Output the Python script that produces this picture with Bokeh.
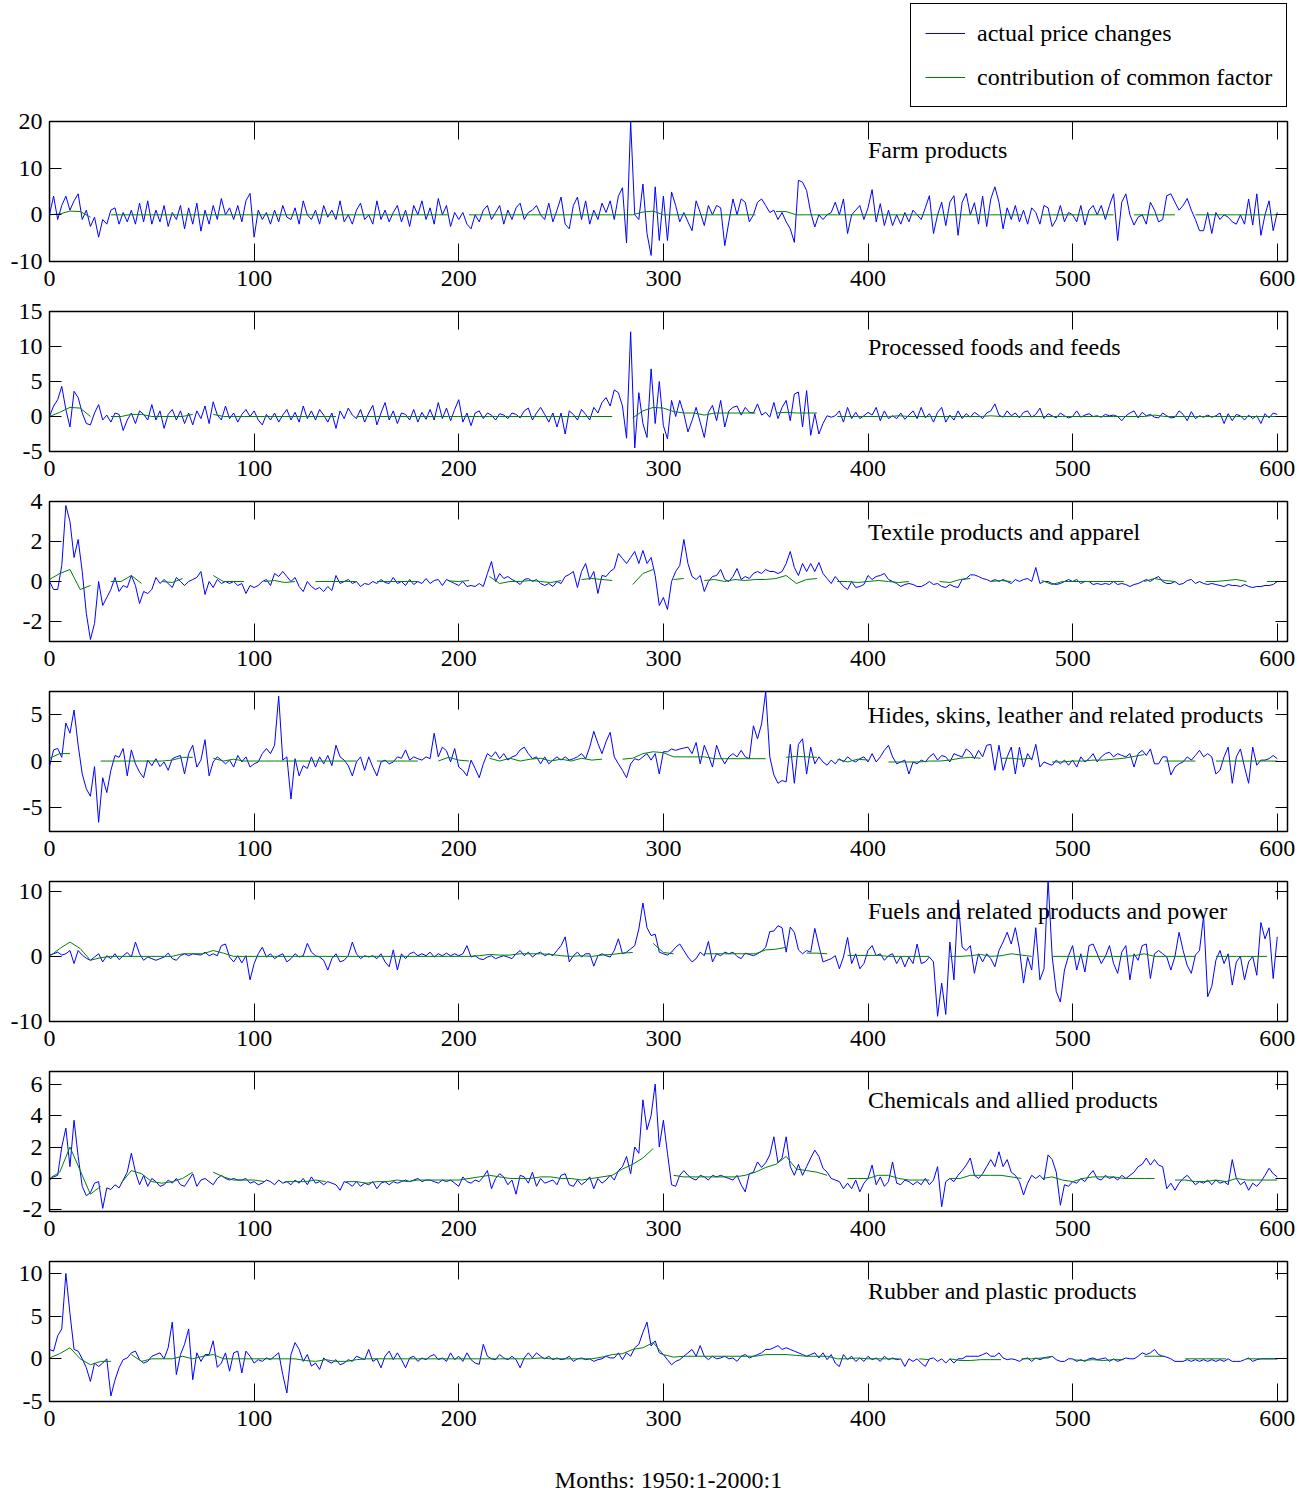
import numpy as np
from bokeh.plotting import figure
from bokeh.layouts import column
from bokeh.models import FixedTicker, LinearAxis, Label, Legend, LegendItem, Range1d
from bokeh.embed import file_html
from bokeh.resources import INLINE

nan = float("nan")

# ---------------- data ----------------
panel_titles = ["Farm products", "Processed foods and feeds", "Textile products and apparel",
                "Hides, skins, leather and related products", "Fuels and related products and power",
                "Chemicals and allied products", "Rubber and plastic products"]
x_axis_title = "Months: 1950:1-2000:1"
legend_labels = ["actual price changes", "contribution of common factor"]
x_tick_values = [0, 100, 200, 300, 400, 500, 600]
y_limits = [(-10, 20), (-5, 15), (-3, 4), (-7.6, 7.5), (-10, 11.5), (-2.1, 6.8), (-5, 11.4)]
y_tick_values = [[-10, 0, 10, 20], [-5, 0, 5, 10, 15], [-2, 0, 2, 4], [-5, 0, 5],
                 [-10, 0, 10], [-2, 0, 2, 4, 6], [-5, 0, 5, 10]]
title_y = [14, 10, 2.5, 5, 7, 5, 8]
title_x = 400
actual_step = 2   # months between stored points of the actual series
common_step = 5   # months between stored points of the common-factor series

farm_actual = [
    0,4,-1,2,4,1,3,4.5,-1,1,-2.5,-0.5,-4.8,-1,-2,1,1.5,-2,0.5,-1.5,1,-2,2.5,-1.5,3,
    -2,1,-1.5,2,-2.5,0.5,-1,2,-3,1.5,-2,2.5,-3.5,1,-2,2,-1,3.5,0,1.5,-1,2,-1.5,3,4.6,
    -4.8,1,-1,0.5,-2,1,-1.5,2,-0.5,-1,1.5,-2,3,0,-1,1,-2,2,-0.5,1,-1,3,-1.5,0,-2,
    1,2.5,-1,0,-2,3,-1,1,-1.5,0.5,2,-1.5,1,-2.5,2,0,3,-1,1.5,-2,3.5,0,2,-2.5,0.5,
    -1,0.5,-2,-3,0,-1.5,1,2,-1,0.5,2,-2,1,-1,1.5,2.5,-1,0.5,1,2,0,-1,2.5,-1.5,1,
    3.8,-2,-3,2,3.8,-1,3,-2,1,-1,2.5,0.5,3,-1,4,5.8,-6,20,0,-1,6.6,-4,-8.7,6,-5.5,
    4,-5.5,4.9,2,-1.5,0.5,-1.5,-3.4,3,0.5,-2.3,2,0,2,1.5,-6.6,-1.5,3.4,0,3.4,2.7,-1.5,0,2.7,3.4,
    2,0.5,1,-1,0.5,-1.5,-3,-5.9,7.4,7,5.2,0.5,-2.6,0,-1,0,0.5,2.7,0,3.4,-4,0,1,2,-1,
    1.5,5.4,-1.5,2.4,-2.3,1,-2.3,0,-2,0.5,-1.5,1,0,-1,1.5,4.1,-4,0,2.7,-2.3,2.7,4.1,-4.4,2.7,4.6,
    0,2.6,-2,4,-2.5,3.4,6,2.7,-3,1.5,-1,2,-1.5,1,-2,1.5,0.5,-2,2,1.5,-2.5,-1,2,-1.5,0.5,
    0,-1.5,2,-2.2,1,2,0,2,-1,2,4.5,-5.5,2.7,4.5,0,-2.2,-0.5,0,-2,2.7,1,-1.5,-1,4.1,4.5,
    2.7,1,2,3.5,1,-1,-3.4,-3.4,0.5,-4,0.5,-1,0,-0.5,-1.5,-2,0,-2,3.4,-2.2,4.5,-4.4,0,3,-3.4,
    0.5]
farm_common = [
    0,0.2,0.8,0.7,-0.5,nan,0,0,0,0,0,0,0,0,0,0,0,0,0,0,
    0,0,0,0,0,0,0,0,0,0,0,0,0,0,0,0,0,0,0,0,
    nan,0,0,0,0,0,0,0,0,0,0,0,0,0,0,0,0,0,0.6,0.8,
    0,0,0,0,0,0,0,0,0,0,nan,0.7,0.7,0,0,0,0,0,0,0,
    0,0,0,0,0,0,0,0,0,0,0,0,0,0,0,0,nan,0,0,0,
    0,0,0,0,0,nan,0,0,0,0,0,nan,0,0,0,0,0,0,0,0,
    0]

foods_actual = [
    0,1.5,2.4,4.3,1,-1.5,3.6,2.7,0.5,-1,-1.2,0.5,1.7,-0.5,0.2,-0.8,0.5,0.3,-2,-0.5,0.5,-1,0.8,0.3,-0.5,
    1.7,-0.5,0.8,-1.7,0.3,1,-0.5,0.8,-1,0.5,-1.2,0.8,-0.3,1.5,-1,2.1,0.2,-0.5,1.5,-0.3,0.5,-0.8,0.3,1,0,
    0.8,-0.5,-1.2,0.3,-0.5,0.5,-0.8,0.2,1,-0.5,0.6,-0.8,1.5,-0.3,0.8,-0.5,1,0.2,-0.8,0.5,-1.7,0.8,-0.3,1.2,0.2,
    -0.3,1,-0.8,0.5,1.6,-1.2,0.5,2,-0.5,0.8,-1,0.5,0.3,-0.5,1,-0.8,0.6,-0.4,1,-0.5,2,-0.3,1.2,-0.6,1,
    2.4,-0.8,0.5,-1.3,0.5,0.8,-0.3,0.5,0.2,-0.5,0.4,0.2,-0.3,0.5,0.3,-0.2,0.8,1.2,-0.5,0.5,1.3,0.3,-0.8,0.5,-1.5,
    0.5,-2.5,0.8,0.3,-0.5,1,0.3,-0.5,1.3,0.5,2,2.7,1.5,3.8,3.4,1.5,-3.1,12.1,-4.5,3.4,-1,-3,6.8,-1,5,
    -1.3,-3.2,2.3,0,2.3,0.4,-2.2,-0.6,1.3,-0.8,-3,0.6,1.6,-0.6,2.3,-1.5,0.8,1.3,1.5,0.2,1.3,0.6,0.5,1.8,0.2,
    0.6,-0.1,2,-0.3,1.3,2.3,-0.6,3.2,3.5,-1.5,3.7,-2.7,0.4,-2.5,-1,0.1,-0.1,0.1,0.8,-0.8,1.3,-0.3,0.6,-0.3,0.1,
    0.6,0.2,1.3,-0.6,0.8,-0.3,0.1,-0.3,0.5,-0.4,0.2,0.8,-0.3,1.3,-0.2,0.4,-0.8,0.6,1.3,-0.8,0.2,-0.5,0.8,-0.3,0.4,
    -0.1,0.6,0.2,-0.3,0.5,0.8,1.8,0.2,-0.1,0.8,0.1,0.5,-0.2,0.6,0.8,-0.1,0.3,1.2,-0.3,0.4,0.1,-0.2,0.5,0.1,-0.2,
    0,0.8,-0.1,0.2,0.4,0,0.1,-0.1,0.3,0.1,0.2,0,-0.6,0.1,0.5,0.8,-0.2,0.6,0.1,0.3,-0.1,-0.2,0.5,0.1,-0.2,
    -0.1,0.8,0.3,-0.6,0.7,-0.3,0.1,-0.1,0.2,-0.1,0.1,0.5,-1,0.4,-0.6,0.3,0.1,-0.5,0.2,-0.3,0.1,-1,0.4,-0.2,0.5,
    0.3]
foods_common = [
    0,0.6,1.3,1.2,0,nan,0,0,0.3,0.3,0,0,0,0,0.3,nan,0.3,0,0,0,
    0,0,0,0,0,0,0,0,0,nan,0,0,0,0,0,0,0,0,0,0,
    0,0,0,0,0,0,0,0,0,0,0,0,0,0,0,0,nan,-0.2,0.8,1.3,
    1.2,0.7,0.5,0.5,0.2,0.5,0.5,0.5,0.5,0.5,nan,0.5,0.6,0.5,0.5,0.5,nan,0,0,0,
    0,0,0,0.1,0,0,0,0,0,0,0,0,0.1,0,0,0,0,0,0,0,
    0,0,0,0,0,0,0,0,0.2,0,0,0,0,0,0,0,0,0,0,0,
    0]

textile_actual = [
    0,-0.4,-0.4,0.8,3.8,3.0,1.2,2.1,0.5,-1.6,-2.9,-2.1,0,-1.2,-0.8,-0.4,0.2,-0.5,-0.2,-0.3,0.3,-0.2,-1.1,-0.5,-0.6,
    -0.4,0.2,-0.1,0.1,-0.1,-0.3,0.2,0,-0.2,0,0.1,0.2,0.5,-0.65,0,-0.3,0.1,-0.1,0,-0.1,0,-0.2,-0.1,-0.6,-0.2,
    -0.3,-0.2,0,0.1,-0.2,0.4,0.25,0.5,0.25,0,0.2,-0.25,-0.5,0,-0.25,-0.4,-0.3,-0.5,-0.25,-0.45,0.3,-0.1,0,0.1,-0.1,
    0,-0.25,-0.1,-0.15,0,-0.1,0.1,-0.05,-0.1,0.2,-0.1,0,-0.2,0.1,-0.15,0,-0.1,0.15,-0.1,0.05,0.1,-0.2,0.1,0,-0.1,
    -0.2,0,-0.25,-0.2,-0.25,-0.1,-0.25,0.4,1,0,0.4,0.15,0.25,0.1,0,-0.15,0.1,0.15,0,0.1,-0.1,-0.2,-0.1,-0.25,0,
    -0.1,0.25,0.35,0.5,-0.3,0.5,0.9,0.1,0.5,-0.6,0.3,0.25,0.5,0.65,1.4,1.15,0.9,1.2,1.5,0.9,1.55,0.9,1.2,0.3,-1.2,
    -0.8,-1.4,0,0.5,0.8,2.1,0.9,0.25,0.1,0.3,-0.5,0,0.25,0.3,0.6,0.1,0,0.25,0.65,0.1,0.25,0.15,0.4,0.5,0.4,
    0.6,0.5,0.5,0.4,0.5,0.9,1.5,0.7,0.3,0.9,0.5,0.9,0.5,0.95,0.4,0.15,-0.1,0.25,0,-0.25,-0.4,0,-0.3,-0.25,-0.15,
    0.3,0.1,0.25,0.3,0.4,0.1,0,-0.1,-0.25,-0.15,-0.1,-0.15,-0.25,-0.25,-0.15,0,-0.15,-0.1,-0.25,-0.3,-0.15,-0.25,-0.3,0.1,0.15,
    0.33,0.33,0.25,0.15,0.1,0,0.1,0,0.1,0,-0.1,0.1,0,0.1,0.15,0,0.7,-0.1,0,0,-0.1,-0.15,-0.1,0,0.1,
    0,0.1,-0.1,0,0,-0.15,-0.1,-0.15,-0.1,-0.15,0,-0.15,-0.1,-0.15,-0.25,-0.15,-0.1,0,0.1,0,0.15,0.25,0,-0.1,-0.1,
    0,-0.15,-0.1,0.05,0.1,-0.1,0,-0.1,-0.15,-0.1,-0.15,-0.2,-0.25,-0.15,-0.2,-0.2,-0.25,-0.15,-0.25,-0.3,-0.25,-0.25,-0.2,-0.2,-0.15,
    0]
textile_common = [
    0.1,0.4,0.6,-0.4,-0.2,nan,0,0,0.3,-0.1,nan,0,-0.05,0.15,nan,nan,0.3,0,0,0,
    nan,0,0.05,-0.05,0,nan,0,0,0,0,0,nan,0,0,0,0,0,nan,nan,0.03,
    0,0.05,nan,0.25,-0.1,0,0,0.05,0,-0.05,0.05,nan,0.1,0.15,0.1,0.05,nan,-0.15,0.4,0.6,
    nan,0.1,0.15,nan,0.05,0.1,0,0.1,0.05,0.1,0.1,0.15,0.3,-0.1,0.1,0.15,nan,0,0,-0.05,
    0,0.05,0,-0.05,0,nan,nan,0,-0.05,0.1,0.15,nan,0,0.05,0,nan,nan,0.05,-0.15,0,
    0,0,0,0,0,0,nan,0,0.15,0.05,0,nan,nan,0,0,0.05,0.1,0,nan,0,
    0]

hides_actual = [
    -0.6,1.2,1.35,0.4,4.1,3.0,5.5,1.7,-1.4,-3.0,-3.8,-0.6,-6.6,-1.8,-3.4,-1,0.6,0.4,1.35,-1.6,1.2,-0.3,-1.2,-1.8,0.1,
    -0.5,0.25,-0.6,-0.1,-1,0.25,0.45,0.6,-1.4,0.8,1.7,-0.65,0.1,2.3,-1.6,-0.1,0.45,0.1,-0.3,0.1,-0.65,0.6,-0.1,0.45,-0.65,
    -0.3,-0.1,0.8,1.35,0.8,1.7,7,0.1,0.45,-4.1,0.25,-1.6,-0.5,-0.8,0.45,-0.65,0.45,-0.3,0.6,-0.5,1.7,0.45,0.1,-0.5,-1.6,
    -0.1,0.45,-1,0.45,-0.65,-1.6,-0.1,0.1,-0.3,-0.1,0.45,0.3,1.2,0.1,0.45,0.25,0.1,0.45,0.25,3,0.45,1.5,1.1,-0.1,1.35,
    -0.65,-1,-1.6,0.1,-0.8,-1.8,-0.3,0.8,0.45,1,0.25,0.8,0.1,0.45,0.6,1.2,1.5,0.8,0.25,0.45,-0.3,0.45,-0.3,0.1,0.45,
    0.1,0.45,0.1,0.25,0.45,0.8,0.25,1.5,3.2,1.9,0.8,2.1,3.1,0.45,-0.3,-1,-1.8,-0.3,0.25,0.1,0.45,0.8,0.1,0.8,-1.4,
    1,1,1.3,1.15,1.3,1.4,1.5,0.8,2,-0.3,1.7,0.6,-0.65,1.7,0.45,-0.3,0.45,0.8,0.45,1.15,0.45,0.25,3.8,2.4,4,
    7.5,0.45,-1.5,-2.4,-2.1,-2.25,1.8,-2.4,1.8,2.4,-1.4,1.5,-0.3,0.45,-0.1,-0.45,0.1,-0.3,0.25,-0.1,0.45,0.1,-0.1,0.25,0.45,
    -0.1,0.8,-0.1,0.45,1.15,1.7,0.45,-0.3,-0.1,0.1,-1.4,-0.1,-0.3,0.1,-0.1,0.45,0.8,0.1,0.6,0.45,-0.1,0.8,0.6,0.45,1.3,
    0.95,0.25,1.15,0.45,1.7,1.8,-1,1.7,-1,0.45,1.5,-1.4,1.5,-0.65,0.8,0.1,1.8,-0.65,-0.1,-0.3,-0.45,0.1,-0.3,0.1,-0.45,
    0.1,-0.65,0.45,-0.1,0.25,0.8,-0.1,0.45,0.8,0.95,0.45,0.8,0.6,0.45,0.8,-0.65,0.8,1.15,0.6,1.3,-0.3,-0.3,0.45,0.45,-1.5,
    -0.65,-0.3,-0.1,0.45,0.1,0.6,1.15,0.45,0.8,0.45,-1.4,-1,0.45,1.5,-2.4,0.45,1.3,-0.65,-2.4,1.5,-0.45,0.1,0.1,0.25,0.6,
    0.25]
hides_common = [
    0.3,0.8,0.8,nan,nan,0,0,0,0,0,0,0,0.1,0.4,0.4,nan,0.3,0,0.2,0,
    0,0,0,0,0,0,0,0,0,0,0,nan,0,0,0,0,0,nan,0,0.4,
    0.1,0,nan,0.3,0,0.3,0,0.2,0.3,0,0.2,0,0.3,0.1,0.2,nan,0.2,0.3,0.8,1,
    0.9,0.45,0.45,0.45,0.45,0.25,0.25,0.25,0.25,0.25,0.25,nan,0.4,0.5,0.45,0.4,nan,0.2,-0.1,0.2,
    0.1,nan,-0.1,-0.1,-0.1,-0.1,0,0,0.1,0.3,0.4,0.3,nan,0.3,0.3,0.2,0.3,nan,-0.1,-0.1,
    0,0,0.1,0.1,0.2,0.3,0.5,0.7,nan,0,0,0,0,nan,0,0,0,0,0,0,
    0]

fuels_actual = [
    0.2,0.4,0.65,0.2,0.4,0.9,-1.1,0.9,0.2,-0.3,-0.6,-0.1,0.4,-0.85,0.1,-0.35,0.4,-0.5,0.1,0.6,-0.1,2.2,0.4,-0.6,-0.1,
    -0.35,-0.6,-0.35,-0.1,0.5,-0.35,-0.6,0.1,0.4,0.1,0.4,0.3,0.2,0.65,0.1,0.4,0.1,1.65,1.9,-0.1,-0.85,0.1,-1,0.1,-3.6,
    -1.1,0.4,1.4,-0.1,0.4,-0.35,0.1,0.4,-0.85,-0.35,0.4,-0.1,0.1,2,0.65,0.1,-0.1,-0.6,-2.1,-0.35,0.4,-0.85,-0.6,0.1,2.2,
    0.4,-0.35,0.1,-0.1,0.1,-0.35,0.4,-0.85,-1.6,1,-2.1,0.4,-0.35,0.4,0.65,0.1,0.4,0.1,0.65,-0.1,0.4,0.1,0.5,0.1,0.4,
    0.1,0.4,1.65,-0.1,0.1,-0.35,-0.5,-0.1,0.1,-0.35,-0.1,0.1,-0.1,-0.35,0.4,0.9,0.1,0.65,-0.1,0.4,0.65,0.1,0.4,0.1,0.9,
    1.65,3,-0.85,0.1,0.65,-0.1,0.4,0.4,-1.5,0.1,0.4,0.1,-0.1,0.9,2.7,0.4,0.65,1.15,1.65,4.2,8.2,4.4,3.2,3.4,0.65,
    0.4,0.2,0.65,1.4,1.9,0.9,-0.1,-0.85,-0.35,0.65,0.1,2.3,-0.85,0.4,0.1,0.65,0.4,0.65,0,-0.35,0.5,0.3,0.1,0.4,0.8,
    1.4,3.8,3.9,4.7,4.4,0.65,4.5,3.7,1,0.4,0.9,0.65,4.3,1.6,-0.85,-0.6,-0.35,0.1,-1.9,-0.1,2.9,-1.1,0.4,-1.9,-1.1,
    0.9,1.65,0.1,0.4,-0.6,0.1,0.4,-1.1,0,-1.6,-0.1,-1.1,1.9,-1.1,-0.85,-0.1,-0.85,-9.2,-4.1,-8.9,2.2,-3.6,8.7,1.4,0.9,
    1.65,-2.6,0.4,-0.85,0.4,-0.35,-1.6,0.9,2.2,3.7,1.9,4.4,1.15,-4.1,-0.1,-2.1,4.4,-3.6,-1.9,11.8,0,-5.4,-7,-2.1,0.1,
    1.65,-2.1,0.4,-2.4,1.65,1.9,0.4,-1.1,0,1.65,-1.1,-2.6,0.65,1.65,-3.6,0.4,-0.6,1.65,1.9,-3.4,0.4,0.9,0.4,-0.1,-2.1,
    0,3.7,0.9,-1.4,-2.6,0.2,0.9,6.2,-6.2,-4.6,-0.6,0.9,-1.1,0.4,-4.4,-0.85,0,-3.6,-0.85,0,-2.9,5.2,2.7,4.4,-3.4,
    3]
fuels_common = [
    0,1.2,2.2,1.2,-0.6,-0.2,0,0,0,0,0,0,0,0.4,0.4,0.4,0.9,0.5,0,0,
    0,0,0,0,0,0,0,0,0,0,0,0,0,0,0,0,0,0,0,0,
    0,0,0.1,0.3,0.2,0.2,0.4,0.4,0.4,0.3,0.1,0,0.1,0,0.2,0.3,0.5,0.6,nan,2.0,
    0.6,0.4,nan,nan,0.4,0.4,0.4,0.4,0.4,0.4,1.0,1.1,1.4,nan,0.5,0.5,0.4,nan,0.15,0.15,
    0.15,0.15,0,0,0,0,0,nan,0,0,0.1,0.3,0,0.1,0.4,0.2,0,nan,0,0,
    0,0,0,0,0,0,0.1,0.4,0,0,0,0,0,nan,0,0,0,0,0,0,
    nan]

chem_actual = [
    -0.1,0.1,0.2,2.0,3.2,0.75,3.7,1.4,-0.5,-1.1,-0.9,-0.3,-0.2,-1.9,-0.6,-0.7,-0.4,-0.6,-0.1,0.4,1.6,0.4,-0.4,0.2,-0.5,
    0,-0.2,-0.5,-0.4,-0.1,-0.3,0,-0.4,-0.5,-0.1,0.3,-0.5,-0.1,0,-0.2,-0.4,0,0.2,0,-0.1,0,-0.1,-0.1,0,-0.3,
    -0.2,-0.4,-0.3,-0.1,-0.2,-0.4,-0.1,-0.3,-0.2,-0.4,-0.1,-0.3,0,-0.4,0.1,-0.3,-0.2,-0.4,-0.2,-0.3,-0.4,-0.75,-0.2,-0.3,-0.5,
    -0.2,-0.5,-0.3,-0.4,-0.2,-0.65,-0.3,-0.2,-0.4,-0.2,-0.3,-0.2,-0.1,-0.2,-0.1,0,-0.2,-0.1,-0.1,-0.2,-0.3,-0.1,-0.2,-0.1,-0.3,
    -0.5,0.1,-0.2,-0.3,-0.1,-0.2,0.1,0.5,-0.65,0,0.3,0.1,-0.4,-0.1,-1,0.2,0.1,-0.3,0.4,-0.5,0,-0.3,-0.2,-0.1,-0.4,
    0.2,0.3,-0.4,-0.5,-0.1,-0.4,-0.2,0.1,-0.65,0,-0.3,-0.1,0.2,-0.1,0.5,0.75,1.4,0.3,2,1.6,5,3.1,4,6,2,
    3.7,1.6,-0.4,-0.5,0.2,0.5,0.2,0,-0.1,0.2,0.1,-0.1,0.2,0.1,0.2,0.1,0,-0.1,0.2,-0.4,-0.85,0.3,0.4,1.05,0.7,
    1,1.5,2.65,1,1.3,2.65,0.75,0.2,0.9,0.2,0.75,1.3,1.8,1.4,0.65,0.4,0,-0.1,-0.2,-0.65,-0.3,-0.65,-0.1,-0.85,-0.3,
    0,0.85,-0.4,0.1,-0.5,-0.2,1.05,-0.3,-0.4,-0.1,-0.2,-0.4,-0.2,-0.4,0,-0.4,-0.1,0.75,-1.8,-0.2,0,-0.2,0.2,0.5,0.85,
    1.3,0.2,0,0.3,0.75,1.2,0.75,1.7,0.75,1.2,0.4,0.2,-0.2,-1.05,-0.3,0.2,0,0.2,-0.1,1.5,1.2,0.4,-1.7,-0.4,-0.5,
    -0.2,-0.3,0,-0.2,0.2,0.5,0,-0.1,0.2,0,0.1,-0.1,0.2,0,0.2,0.4,0.75,0.9,1.3,0.85,1.2,0.85,0.75,-0.65,-0.3,
    -0.75,-0.3,0,0.2,-0.1,-0.4,-0.2,-0.3,-0.1,-0.4,-0.1,-0.3,-0.2,-0.4,1.2,0,-0.4,-0.2,-0.75,-0.3,-0.5,-0.2,0.2,0.65,0.3,
    0.1]
chem_common = [
    0,0.4,2,0.5,-1,-0.5,nan,-0.3,0.5,0.3,-0.2,-0.3,-0.2,0,0.4,nan,0.4,0.1,-0.1,-0.1,
    -0.1,-0.2,nan,-0.2,-0.2,-0.2,-0.1,-0.2,nan,-0.2,-0.2,-0.3,-0.2,-0.2,-0.1,-0.2,-0.1,-0.1,-0.1,-0.1,
    -0.1,0,0.1,0.2,0.1,0,0,0,0.1,0.1,0,0,-0.1,0,0.1,0.2,0.6,0.9,1.3,1.9,
    nan,0.2,0.1,0.1,0.1,0.1,0.1,0.1,0.2,0.4,0.7,0.9,1.4,0.6,0.5,0.4,0.2,nan,0,0,
    0,0.2,0.2,0,-0.1,-0.1,-0.1,nan,0,0,0.2,0.2,0.2,0.2,0.1,0,nan,0,0.1,-0.1,
    -0.2,0,0.1,0.1,0.1,0,0,0,0,nan,-0.1,-0.1,-0.2,-0.2,-0.1,-0.2,0,-0.1,-0.1,-0.1,
    -0.1]

rubber_actual = [
    1.1,0.9,2.7,3.5,10,5.3,1.1,0.9,0,-1.05,-2.65,-0.5,-0.9,-0.5,0,-4.35,-2.5,-1.05,-0.1,0.1,0.7,0.9,-0.1,-0.5,-0.3,
    0.3,0.5,0.7,0,1.3,4.3,-1.85,0.5,1.7,3.5,-2.45,0.7,-0.3,0.5,0.5,2.1,-1,-0.5,0.7,-1.45,0.7,0.9,-1.65,0.9,0.3,
    -0.5,-0.1,-0.3,0.1,-0.1,0.3,0.7,-1.85,-4,0.5,1.9,1.1,-0.3,0.5,-0.85,-0.5,-1.25,0.1,-0.3,-0.5,-0.1,-0.7,-0.5,-0.1,-0.3,
    0.3,0.1,-0.1,1.1,-0.3,0,-1.05,0.3,0.9,-0.1,0.7,-0.1,-1.05,0.1,0.3,-0.3,0.1,-0.1,0.3,0.5,-0.1,0.1,-0.3,0.7,-0.1,
    0.3,-0.3,0.7,-0.1,-0.5,-0.65,1.7,0.3,0,-0.1,0.5,0.1,-0.1,0.3,-0.1,-1.05,0.1,0.7,0.1,0.7,0.3,0,0.3,-0.1,0.1,
    -0.1,0,0.3,-0.3,0,0.1,-0.1,0,-0.3,-0.1,0,0.3,0.1,0.1,0.7,-0.1,0.7,0.3,1.3,1.7,3.1,4.3,1.5,2.1,0.7,
    0.5,-0.1,-0.7,-0.3,-0.1,0.3,0.7,1.1,0.3,1.55,0.3,-0.1,0.3,0,0.1,0.3,0,0.1,-0.3,0.3,0.5,0.1,0.3,0.5,0.7,
    1.1,1.1,1.3,1.55,1.1,1.3,1.1,0.9,0.7,0.5,0.3,0.5,0.7,0.1,0.7,-0.1,0.5,-0.5,-0.9,0.5,-0.1,0.3,-0.3,0.1,-0.3,
    0.3,-0.1,0.1,-0.3,0.3,-0.1,0.1,-0.1,0,-0.9,0,-0.3,0,-0.5,-0.9,0,0.1,-0.3,0,-0.5,0,-0.5,0,0,0.3,
    0.3,0.3,0.3,0.5,0.7,0.3,0.3,0.7,0.1,-0.1,0,-0.1,-0.3,0,0.1,-0.3,0.1,-0.1,0.1,0.1,0.3,-0.1,-0.3,-0.3,0,
    0,-0.3,-0.1,-0.3,0,0.1,-0.1,0,0.1,-0.3,0,-0.3,-0.1,0.1,0,0,0.3,0.7,0.5,0.7,1.1,0.5,0.3,0.2,0,
    -0.3,-0.3,-0.3,-0.1,-0.3,-0.1,-0.3,-0.1,-0.3,-0.1,-0.3,-0.1,-0.3,0,-0.3,-0.3,-0.3,-0.1,0.1,-0.3,-0.1,0,0,0,0,
    0]
rubber_common = [
    0.1,0.6,1.3,0,-0.7,-0.3,-0.3,nan,0.5,-0.3,0,0,0,0.3,0,0.3,0.5,0,0,0,
    0,0,0,0,0,-0.2,-0.3,-0.1,-0.3,-0.3,-0.1,0,0,0,0,0,0,0,0,0,
    0,0,0,0,0,0,0,0,0.1,0,0,0,0,0,0.2,0.5,0.6,1.1,1.3,1.9,
    0.5,0.2,0.3,0.3,0.3,0.3,0.3,0.3,0.3,0.3,0.5,0.5,0.5,0.4,0.3,0.3,0.3,0,0,0.1,
    0,0,0,0,nan,0,-0.1,nan,0,-0.2,-0.2,-0.1,-0.1,-0.1,nan,0,0,0.1,0.3,nan,
    -0.1,-0.2,-0.1,-0.2,-0.1,-0.1,nan,0.3,0.3,0.3,nan,0,0,0,0,0,nan,0,0,0,
    0]

actual_series = [farm_actual, foods_actual, textile_actual, hides_actual,
                 fuels_actual, chem_actual, rubber_actual]
common_series = [farm_common, foods_common, textile_common, hides_common,
                 fuels_common, chem_common, rubber_common]

# ---------------- styling ----------------
FONT = "Liberation Serif"
FS = "24px"
BLUE = "#0000ff"
GREEN = "#008000"

# legend strip above the first panel (its frame is aligned with the panels below)
leg_fig = figure(width=1315, height=107, min_border=0, x_range=Range1d(0, 1), y_range=Range1d(0, 1),
                 x_axis_location=None, y_axis_location=None,
                 output_backend="svg", toolbar_location=None)
leg_fig.outline_line_color = None
leg_fig.background_fill_color = "white"
leg_fig.border_fill_color = "white"
leg_fig.grid.visible = False
# legend swatches only: no points fall inside the strip
leg_blue = leg_fig.line(x=[nan, nan], y=[nan, nan], line_color=BLUE, line_width=1)
leg_green = leg_fig.line(x=[nan, nan], y=[nan, nan], line_color=GREEN, line_width=1.2)
legend = Legend(items=[LegendItem(label=legend_labels[0], renderers=[leg_blue]),
                       LegendItem(label=legend_labels[1], renderers=[leg_green])],
                location=(861, 0), orientation="vertical",
                border_line_color="black", border_line_width=1.5, border_line_alpha=1.0,
                background_fill_color="white", background_fill_alpha=1.0,
                label_text_font=FONT, label_text_font_size=FS, label_text_color="black",
                glyph_width=40, glyph_height=30, label_height=30,
                label_standoff=12, padding=14, spacing=14, margin=0)
leg_fig.add_layout(legend)

figs = [leg_fig]
n = len(panel_titles)
for i in range(n):
    last = i == n - 1
    p = figure(frame_width=1238, frame_height=140,
               x_range=Range1d(0, 605), y_range=Range1d(*y_limits[i]),
               output_backend="svg", toolbar_location=None,
               min_border_left=49, min_border_right=28,
               min_border_top=14,
               min_border_bottom=103 if last else 36)
    p.background_fill_color = "white"
    p.border_fill_color = "white"
    p.outline_line_color = "black"
    p.outline_line_width = 1.5
    p.xgrid.visible = False
    p.ygrid.visible = False

    xa = p.xaxis[0]
    xa.ticker = FixedTicker(ticks=x_tick_values)
    xa.major_tick_in = 18
    xa.major_tick_out = 0
    xa.minor_tick_in = 0
    xa.minor_tick_out = 0
    xa.axis_line_color = None
    xa.major_tick_line_color = "black"
    xa.major_label_text_font = FONT
    xa.major_label_text_font_size = FS
    xa.major_label_text_color = "black"
    xa.major_label_standoff = 9

    ya = p.yaxis[0]
    ya.ticker = FixedTicker(ticks=y_tick_values[i])
    ya.major_tick_in = 12
    ya.major_tick_out = 0
    ya.minor_tick_in = 0
    ya.minor_tick_out = 0
    ya.axis_line_color = None
    ya.major_tick_line_color = "black"
    ya.major_label_text_font = FONT
    ya.major_label_text_font_size = FS
    ya.major_label_text_color = "black"
    ya.major_label_standoff = 7
    ya.major_label_overrides = {t: str(t) for t in y_tick_values[i]}

    # tick marks on the top and right edges (no labels there)
    top = LinearAxis(ticker=FixedTicker(ticks=x_tick_values), major_tick_in=18, major_tick_out=0,
                     minor_tick_in=0, minor_tick_out=0, axis_line_color=None,
                     major_tick_line_color="black", major_label_text_font_size="1px",
                     major_label_text_color=None, major_label_standoff=0)
    p.add_layout(top, "above")
    right = LinearAxis(ticker=FixedTicker(ticks=y_tick_values[i]), major_tick_in=12, major_tick_out=0,
                       minor_tick_in=0, minor_tick_out=0, axis_line_color=None,
                       major_tick_line_color="black", major_label_text_font_size="1px",
                       major_label_text_color=None, major_label_standoff=0)
    p.add_layout(right, "right")

    va = np.array(actual_series[i], dtype=float)
    xa_months = np.arange(len(va)) * actual_step
    vc = np.array(common_series[i], dtype=float)
    xc_months = np.arange(len(vc)) * common_step
    p.line(xa_months, va, line_color=BLUE, line_width=1)
    p.line(xc_months, vc, line_color=GREEN, line_width=1)

    p.add_layout(Label(x=title_x, y=title_y[i], text=panel_titles[i], text_font=FONT,
                       text_font_size=FS, text_baseline="middle", text_align="left",
                       text_color="black"))

    if last:
        xa.axis_label = x_axis_title
        xa.axis_label_text_font = FONT
        xa.axis_label_text_font_size = FS
        xa.axis_label_text_font_style = "normal"
        xa.axis_label_text_color = "black"
        xa.axis_label_standoff = 38

    figs.append(p)

layout = column(*figs, spacing=0)
open("out.html", "w").write(file_html(layout, INLINE, "Price changes"))
